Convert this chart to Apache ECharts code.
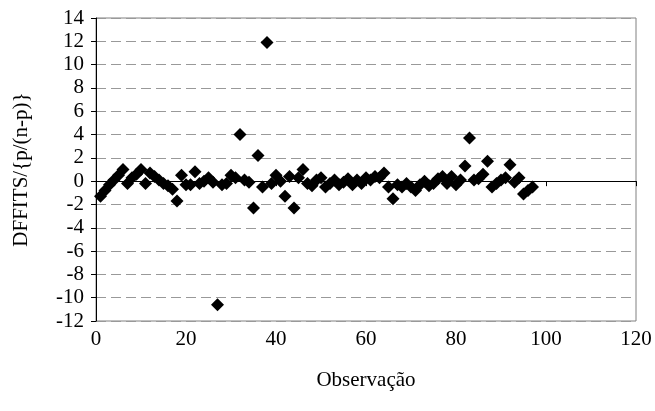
<!DOCTYPE html>
<html>
<head>
<meta charset="utf-8">
<script src="https://cdn.jsdelivr.net/npm/echarts@6/dist/echarts.min.js"></script>
<style>
  html, body { margin: 0; padding: 0; background: #fff; }
  #chart { width: 655px; height: 411px; }
</style>
</head>
<body>
<div id="chart"></div>
<script>
// Observation numbers and their scaled DFFITS values
const observations = [];
for (let i = 1; i <= 97; i++) observations.push(i);

const dffits = [
  -1.3, -0.8, -0.3, 0.1, 0.5, 1.0, -0.2, 0.3, 0.6, 1.0,
  -0.2, 0.7, 0.4, 0.1, -0.2, -0.4, -0.7, -1.7, 0.5, -0.3,
  -0.3, 0.8, -0.2, 0.0, 0.3, -0.1, -10.6, -0.3, -0.2, 0.5,
  0.3, 4.0, 0.1, -0.1, -2.3, 2.2, -0.5, 11.9, -0.2, 0.5,
  0.0, -1.3, 0.4, -2.3, 0.3, 1.0, -0.2, -0.4, 0.1, 0.3,
  -0.5, -0.2, 0.1, -0.3, -0.1, 0.2, -0.3, 0.1, -0.2, 0.3,
  0.1, 0.4, 0.3, 0.7, -0.5, -1.5, -0.3, -0.5, -0.2, -0.5,
  -0.8, -0.3, 0.0, -0.4, -0.2, 0.2, 0.4, -0.2, 0.4, -0.3,
  0.1, 1.3, 3.7, 0.1, 0.2, 0.6, 1.7, -0.5, -0.2, 0.1,
  0.3, 1.4, -0.1, 0.3, -1.1, -0.8, -0.5
];

const xTicks = [0, 20, 40, 60, 80, 100, 120];
const yTicks = [-12, -10, -8, -6, -4, -2, 0, 2, 4, 6, 8, 10, 12, 14];

const points = observations.map((o, i) => [o, dffits[i]]);

const font = 'Liberation Serif, Times New Roman, serif';
const chart = echarts.init(document.getElementById('chart'), null, { renderer: 'canvas' });

chart.setOption({
  animation: false,
  backgroundColor: '#ffffff',
  grid: {
    left: 96, right: 19, top: 18, bottom: 90,
    show: true, borderColor: '#808080', borderWidth: 1, backgroundColor: 'transparent'
  },
  xAxis: [
    {
      // bottom axis carrying the labels and title
      type: 'value',
      min: xTicks[0], max: xTicks[xTicks.length - 1], interval: 20,
      position: 'bottom',
      axisLine: { show: false, onZero: false },
      axisTick: { show: false },
      splitLine: { show: false },
      axisLabel: { color: '#000', fontFamily: font, fontSize: 21, margin: 8 },
      name: 'Observação',
      nameLocation: 'middle',
      nameGap: 49,
      nameTextStyle: { color: '#000', fontFamily: font, fontSize: 21 }
    },
    {
      // horizontal line through zero with its tick marks
      type: 'value',
      min: xTicks[0], max: xTicks[xTicks.length - 1], interval: 20,
      position: 'bottom',
      axisLine: { show: true, onZero: true, lineStyle: { color: '#000', width: 1 } },
      axisTick: { show: true, inside: false, length: 5, lineStyle: { color: '#000', width: 1 } },
      axisLabel: { show: false },
      splitLine: { show: false }
    }
  ],
  yAxis: {
    type: 'value',
    min: yTicks[0], max: yTicks[yTicks.length - 1], interval: 2,
    axisLine: { show: true, onZero: false, lineStyle: { color: '#000', width: 1 } },
    axisTick: { show: true, inside: false, length: 5, lineStyle: { color: '#000', width: 1 } },
    axisLabel: { color: '#000', fontFamily: font, fontSize: 21, margin: 12 },
    splitLine: { show: true, lineStyle: { color: '#999', width: 1, type: [10, 5] } },
    name: 'DFFITS/{p/(n-p)}',
    nameLocation: 'middle',
    nameGap: 64,
    nameRotate: 90,
    nameTextStyle: { color: '#000', fontFamily: font, fontSize: 21 }
  },
  series: [{
    type: 'scatter',
    xAxisIndex: 0,
    data: points,
    symbol: 'diamond',
    symbolSize: 13,
    itemStyle: { color: '#000', opacity: 1 },
    z: 5
  }]
});
</script>
</body>
</html>
